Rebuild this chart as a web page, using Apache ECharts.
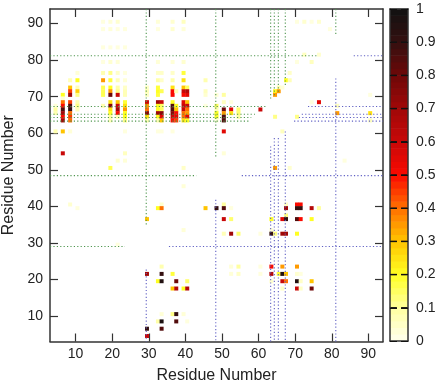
<!DOCTYPE html>
<html><head><meta charset="utf-8">
<style>html,body{margin:0;padding:0;background:#fff}#c{width:440px;height:382px}</style>
<script src="https://cdn.jsdelivr.net/npm/echarts@6/dist/echarts.min.js"></script>
</head><body><div id="c"></div>
<script>
// contacts per x residue: [y residue, value]
const col4=[[67,.03],[66,.1],[65,.08],[60,.08]];
const col6=[[70,.2],[69,.03],[68,.4],[67,.5],[66,.85],[65,.7],[64,.5],[63,.7],[60,.3],[54,.6]];
const col8=[[74,.07],[72,.3],[71,.45],[70,.7],[68,.45],[67,.85],[66,.9],[65,.4],[64,.45],[63,.4],[60,.03],[40,.04]];
const col10=[[76,.03],[74,.2],[72,.07],[71,.28],[70,.12],[68,.08],[67,.12],[66,.07],[39,.02]];
const col17=[[90,.02],[88,.02],[83,.02],[79,.02],[76,.08],[74,.35],[72,.16],[71,.16],[70,.16],[67,.08]];
const col19=[[90,.03],[88,.03],[83,.02],[79,.04],[76,.12],[74,.18],[72,.2],[71,.35],[70,.8],[68,.25],[67,.75],[66,.25],[65,.2],[64,.1],[63,.07],[50,.16]];
const col21=[[90,.04],[88,.02],[83,.02],[79,.03],[76,.05],[74,.07],[72,.09],[71,.12],[70,.6],[68,.3],[67,.6],[66,.7],[65,.5],[64,.07],[52,.04],[29,.02]];
const col23=[[88,.02],[83,.02],[76,.02],[74,.03],[72,.05],[71,.07],[70,.07],[68,.18],[67,.25],[66,.35],[65,.2],[64,.2],[63,.12],[60,.02],[54,.06],[52,.03]];
const col29=[[72,.05],[71,.07],[70,.05],[68,.6],[67,.35],[66,.4],[65,.75],[64,.25],[63,.08],[36,.3],[21,.7],[6,.9],[4,.6]];
const col32=[[90,.03],[88,.02],[79,.03],[76,.05],[74,.09],[72,.18],[71,.2],[70,.18],[68,.7],[67,.2],[66,.2],[65,.7],[64,.2],[63,.08],[60,.02],[39,.2],[19,.2],[8,.09]];
const col33=[[76,.05],[74,.05],[71,.16],[68,.6],[67,.15],[66,.15],[65,.75],[64,.55],[63,.3],[60,.02],[40,.04],[39,.4],[23,.08],[21,.9],[19,.95],[10,.03],[8,.97],[6,.85]];
const col36=[[90,.04],[88,.04],[79,.03],[76,.05],[74,.09],[72,.25],[71,.5],[70,.5],[68,.2],[67,.85],[66,.85],[65,.75],[64,.6],[63,.5],[60,.02],[21,.18],[17,.3],[10,.12]];
const col37=[[71,.07],[67,.2],[66,.3],[65,.5],[64,.55],[63,.45],[19,.8],[17,.65],[10,.9],[8,.85]];
const col39=[[90,.06],[88,.03],[79,.04],[76,.18],[74,.25],[72,.3],[71,.6],[70,.5],[68,.55],[67,.6],[66,.6],[65,.4],[64,.4],[63,.25],[50,.05],[45,.03],[33,.03],[17,.2],[10,.03]];
const col40=[[72,.15],[71,.65],[70,.55],[68,.3],[67,.6],[66,.4],[65,.35],[64,.55],[63,.2],[19,.14],[17,.65],[8,.02]];
const col45=[[74,.08],[71,.06],[70,.04],[67,.02],[39,.3]];
const col48=[[70,.03],[67,.15],[66,.08],[65,.2],[64,.2],[63,.03],[39,.9]];
const col50=[[70,.1],[68,.06],[66,.8],[65,.35],[64,.85],[63,.85],[60,.55],[54,.03],[40,.1],[39,.85],[36,.6],[32,.07]];
const col52=[[68,.02],[66,.55],[65,.25],[39,.02],[36,.14],[32,.7],[23,.03],[21,.03]];
const col54=[[66,.14],[65,.14],[64,.1],[32,.14],[23,.1],[21,.05]];
const col60=[[66,.6],[32,.02],[23,.02],[21,.02]];
const col63=[[36,.2],[33,.03],[32,.9],[23,.5],[21,.65],[19,.04]];
const col64=[[71,.2],[70,.35],[50,.35],[64,.12],[32,.12]];
const col65=[[72,.08],[71,.35],[21,.18]];
const col66=[[72,.03],[60,.06],[36,.55],[32,.7],[23,.35],[21,.95],[19,.6],[17,.05]];
const col67=[[74,.2],[40,.05],[39,.7],[37,.12],[36,.9],[32,.7],[21,.3],[19,.4]];
const col68=[[76,.05],[74,.07],[50,.04]];
const col70=[[90,.02],[79,.02],[64,.12],[40,.5],[39,.9],[36,.85],[32,.2],[23,.35],[21,.04],[19,.95],[17,.6]];
const col71=[[40,.5],[39,.9],[36,.5],[21,.02],[19,.05],[17,.05]];
const col72=[[90,.04],[81,.06]];
const col74=[[90,.02],[79,.06],[68,.02],[39,.65],[36,.2],[19,.3],[17,.8]];
const col76=[[90,.04],[81,.04],[68,.55],[39,.1]];
const col79=[[88,.02]];
const col81=[[67,.06],[65,.35]];
const col83=[[52,.02]];
const col90=[[70,.02],[65,.25],[63,.06]];
const columnIds=[4,6,8,10,17,19,21,23,29,32,33,36,37,39,40,45,48,50,52,54,60,63,64,65,66,67,68,70,71,72,74,76,79,81,83,90];
const columns=[col4,col6,col8,col10,col17,col19,col21,col23,col29,col32,col33,col36,col37,col39,col40,col45,col48,col50,col52,col54,col60,col63,col64,col65,col66,col67,col68,col70,col71,col72,col74,col76,col79,col81,col83,col90];

// colour scale and ticks
const scaleColors=['#ffffee','#ffffa0','#ffff22','#ffc400','#ff7000','#fa0a00','#c80808','#a00808','#6e0808','#341010','#111111'];
const axisMin=3, axisMax=94;
const residueTicks=[10,20,30,40,50,60,70,80,90];
const colorTicks=[.1,.2,.3,.4,.5,.6,.7,.8,.9];
const colorSteps=50;
const dashOffsets=[.19,.81];

// dotted guide lines: [fixed, from, to]
const greenH=[[81.2,3,76.2],[67.3,3,62],[65.2,3,59],[64.3,3,58],[63.3,3,57.8],[48.4,3,43],[29,3,23.5]];
const blueH=[[81.2,86,94],[67.3,73.5,94],[65.2,71.8,94],[64.3,71,94],[63.3,69.7,94],[48.4,55.4,94],[29,35.5,94]];
const greenV=[[29.3,94,34.5],[48.3,94,53.6],[63.3,94,69],[64.3,94,70],[65.4,94,71],[67.3,94,73],[81.1,94,86.7]];
const blueV=[[29.3,22.7,3],[48.3,41.8,3],[63.3,56.4,3],[64.3,58.7,3],[65.4,58.7,3],[67.3,60.5,3],[81.1,75,3]];

const points=[];
columns.forEach((c,i)=>c.forEach(p=>points.push([columnIds[i]+.5,p[0]+.5,p[1]])));
const barCells=[];
for(let i=0;i<colorSteps;i++){const v=(i+.5)/colorSteps;barCells.push([.5,v,v]);}
const dashes=[];
colorTicks.forEach(v=>dashOffsets.forEach(x=>dashes.push([x,v])));
const FONT='"Liberation Sans"', INK='#333';
function guide(segs,horizontal,color){
  return segs.map(s=>({type:'line',xAxisIndex:0,yAxisIndex:0,silent:true,symbol:'none',animation:false,z:3,
    data:horizontal?[[s[1],s[0]],[s[2],s[0]]]:[[s[0],s[1]],[s[0],s[2]]],
    lineStyle:{color:color,width:1.1,type:[1.2,2.2]}}));
}
const frameLine={show:true,onZero:false,lineStyle:{color:INK,width:1.5}};
const labelStyle={show:true,fontFamily:FONT,fontSize:14,color:'#222',customValues:residueTicks};
const tickAxis=(extra)=>Object.assign({type:'value',min:axisMin,max:axisMax,gridIndex:0,containShape:false,
  splitLine:{show:false},
  axisLine:frameLine,
  axisTick:{show:true,inside:true,length:8,lineStyle:{color:INK,width:1.2},customValues:residueTicks},
  axisLabel:{show:false,customValues:residueTicks}},extra);
const barFrame=(extra)=>Object.assign({type:'value',gridIndex:1,min:0,max:1,z:30,containShape:false,axisTick:{show:false},axisLabel:{show:false},splitLine:{show:false},axisLine:frameLine},extra);
const chart=echarts.init(document.getElementById('c'),null,{renderer:'canvas'});
chart.setOption({
  animation:false,backgroundColor:'#fff',
  grid:[{left:50,top:9,width:333,height:332.5,outerBoundsMode:'none'},{left:390,top:9,width:18,height:332,outerBoundsMode:'none'}],
  xAxis:[
    tickAxis({position:'bottom',name:'Residue Number',nameLocation:'middle',nameGap:26,nameTextStyle:{fontFamily:FONT,fontSize:16,color:'#222'},axisLabel:Object.assign({margin:6},labelStyle)}),
    tickAxis({position:'top'}),
    barFrame({position:'bottom'}),barFrame({position:'top'})
  ],
  yAxis:[
    tickAxis({position:'left',name:'Residue Number',nameLocation:'middle',nameGap:32,nameTextStyle:{fontFamily:FONT,fontSize:16,color:'#222'},axisLabel:Object.assign({margin:7},labelStyle)}),
    tickAxis({position:'right'}),
    barFrame({position:'right',interval:.1,
     axisTick:{show:true,inside:true,length:18,lineStyle:{color:'#111',width:1.2,type:[7,4]}},
     axisLabel:{show:true,margin:8,fontFamily:FONT,fontSize:14,color:'#222',formatter:v=>String(+(+v).toFixed(1))}}),
    barFrame({position:'left'})
  ],
  visualMap:{type:'continuous',show:false,seriesIndex:[0,1],min:0,max:1,dimension:2,inRange:{color:scaleColors}},
  series:[
    {type:'scatter',xAxisIndex:0,yAxisIndex:0,symbol:'rect',symbolSize:4,data:points,z:2,silent:true,animation:false,itemStyle:{opacity:1}},
    {type:'scatter',xAxisIndex:2,yAxisIndex:2,symbol:'rect',symbolSize:[18,7.2],data:barCells,z:5,silent:true,animation:false,clip:true,itemStyle:{opacity:1}},
    {type:'scatter',xAxisIndex:2,yAxisIndex:2,symbol:'rect',symbolSize:[7,1.5],data:dashes,z:20,silent:true,animation:false,itemStyle:{opacity:1,color:'#111'}},
    ...guide(greenH,true,'#4f964f'),...guide(blueH,true,'#6060c4'),
    ...guide(greenV,false,'#4f964f'),...guide(blueV,false,'#6060c4')
  ]
});
</script></body></html>
